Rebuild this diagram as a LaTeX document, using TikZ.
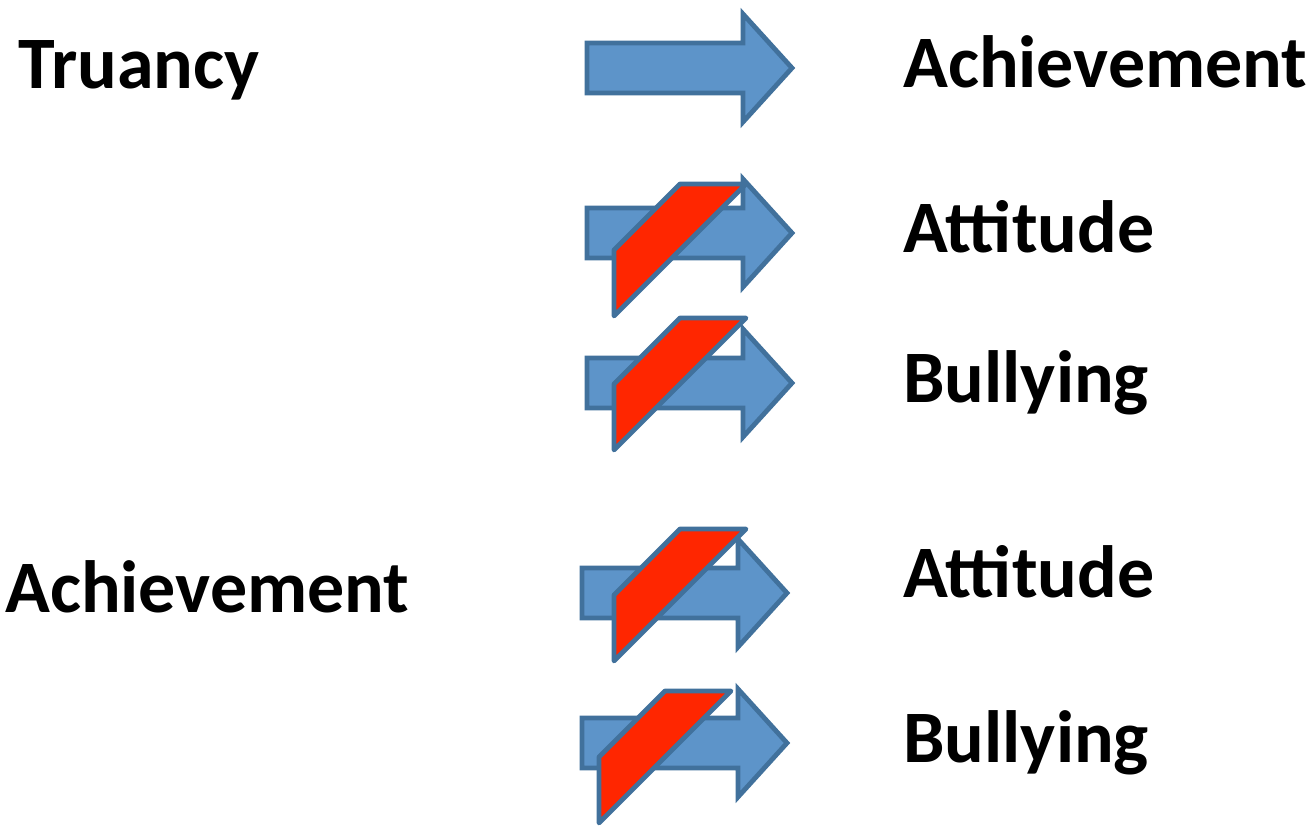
\documentclass[tikz,border=0pt]{standalone}
\usepackage{fontspec}
\setmainfont{Carlito}
\definecolor{arrowfill}{HTML}{5D94C9}
\definecolor{edgeblue}{HTML}{41719C}
\definecolor{slashred}{HTML}{FF2600}
\begin{document}
\begin{tikzpicture}[x=0.75pt,y=-0.75pt,
  lbl/.style={inner sep=0pt, anchor=base west, font=\fontsize{55.5}{60}\selectfont\bfseries},
  arrowbody/.style={fill=arrowfill, draw=edgeblue, line width=3.6pt, line join=miter},
  slashbody/.style={fill=slashred, draw=edgeblue, line width=3.6pt, line join=round},
  blockarr/.pic={\path[arrowbody] (0,-25) -- (156,-25) -- (156,-54) -- (205,0)
      -- (156,54) -- (156,25) -- (0,25) -- cycle;},
  negslash/.pic={\path[slashbody] (0,0) -- (0,-66) -- (66,-132) -- (132,-132) -- cycle;}
]
\useasboundingbox (0,0) rectangle (1315,827);

% labels
\node[lbl] (truancy) at (18,89) {Truancy};
\node[lbl] (achleft) at (5,612) {Achievement};
\node[lbl] (achright) at (903,88) {Achievement};
\node[lbl] (att1) at (903,253) {Attitude};
\node[lbl] (bul1) at (903,403) {Bullying};
\node[lbl] (att2) at (903,597) {Attitude};
\node[lbl] (bul2) at (903,762) {Bullying};

% effect arrows
\pic at (587,68) {blockarr};
\pic at (587,233) {blockarr};
\pic at (587,383) {blockarr};
\pic at (582,593) {blockarr};
\pic at (582,743) {blockarr};

% "no effect" slashes over the arrows
\pic at (614,316) {negslash};
\pic at (614,450) {negslash};
\pic at (614,661) {negslash};
\pic at (599,823) {negslash};
\end{tikzpicture}
\end{document}
